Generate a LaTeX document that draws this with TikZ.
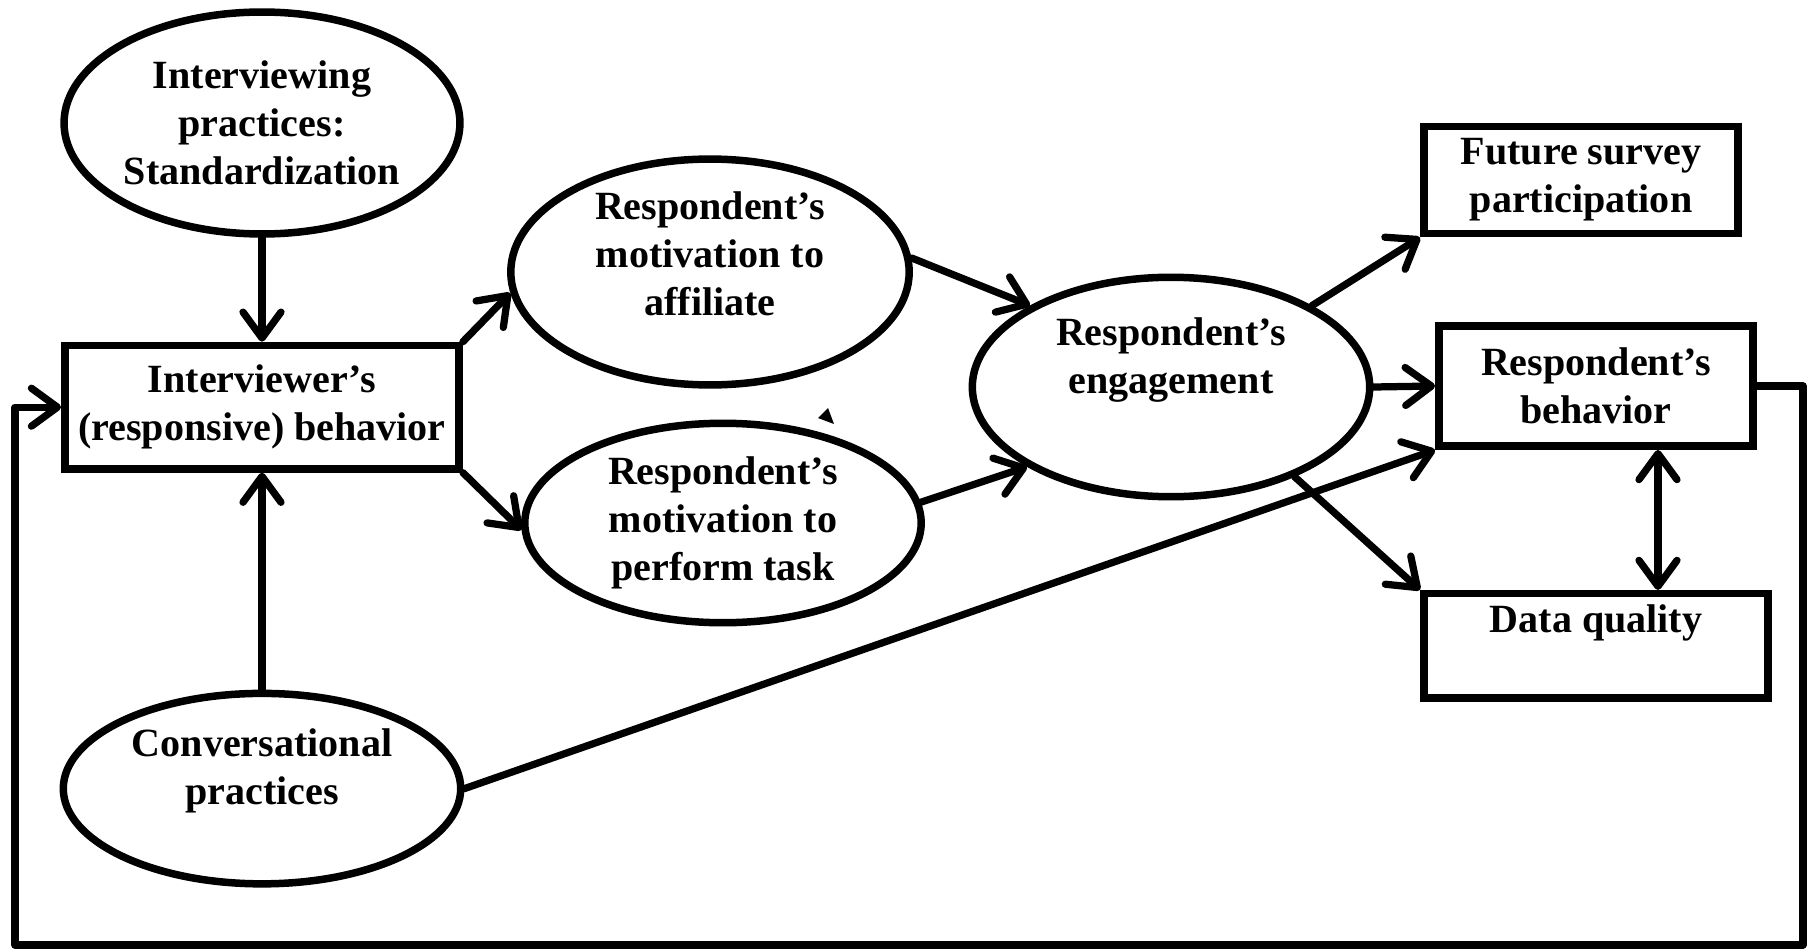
\documentclass[tikz,border=0pt]{standalone}
\usepackage{fontspec}
\setmainfont{Liberation Serif}
\usetikzlibrary{positioning,shapes.geometric,arrows.meta}

\begin{document}
\begin{tikzpicture}[x=0.02cm,y=-0.02cm,
        font=\fontsize{22.8}{27.3}\selectfont\bfseries,
        ell/.style={ellipse,draw,line width=0.15cm,inner sep=0pt,align=center},
        box/.style={rectangle,draw,line width=0.15cm,inner sep=0pt,align=center},
        arr/.style={line width=0.145cm,line cap=round,line join=round,
            -{Straight Barb[length=0.52cm,width=0.76cm,line cap=round,line join=round]}},
        dbl/.style={arr,{Straight Barb[length=0.52cm,width=0.76cm,line cap=round,line join=round]}-{Straight Barb[length=0.52cm,width=0.76cm,line cap=round,line join=round]}}]
        \useasboundingbox (0,0) rectangle (1810,950);

        \node[ell,minimum width=7.92cm,minimum height=4.44cm] (std) at (262,123) {Interviewing\\practices:\\Standardization};
        \node[box,minimum width=7.89cm,minimum height=2.47cm] (ivb) [below=2.08cm of std] {Interviewer's\\(responsive) behavior};
        \node[ell,minimum width=7.95cm,minimum height=3.81cm,text depth=0.9cm] (conv) [below=4.34cm of ivb] {Conversational\\practices};

        \node[ell,minimum width=7.97cm,minimum height=3.83cm,text depth=0.72cm] (aff) at (710,272) {Respondent's\\motivation to\\affiliate};
        \node[ell,minimum width=7.93cm,minimum height=3.99cm] (task) at (723,523) {Respondent's\\motivation to\\perform task};
        \node[ell,minimum width=7.95cm,minimum height=4.39cm,text depth=1.26cm] (eng) at (1171,387) {Respondent's\\engagement};

        \node[box,minimum width=6.29cm,minimum height=2.15cm] (fut) at (1581,180) {Future survey\\participation};
        \node[box,minimum width=6.29cm,minimum height=2.41cm] (rbeh) at (1596,386) {Respondent's\\behavior};
        \node[box,minimum width=6.89cm,minimum height=2.09cm,text depth=1.1cm] (dq) [below=2.8cm of rbeh] {Data quality};

        \coordinate (fbr) at (1803,945);
        \coordinate (fbl) at (15,945);

        \draw[arr] (std) -- (ivb);
        \draw[arr] (conv) -- (ivb);
        \draw[arr] (ivb.north east) -- (aff.186);
        \draw[arr] (ivb.south east) -- (task.182);
        \draw[arr] (aff.4) -- (eng.150);
        \draw[arr] (task.6) -- (eng.209);
        \draw[arr] (eng.30) -- (fut.south west);
        \draw[arr] (eng.east) -- (rbeh.west);
        \draw[arr] (eng.-36) -- (dq.north west);
        \draw[arr] (conv.east) -- (rbeh.south west);
        \draw[dbl] ([xshift=1.24cm]rbeh.south) -- ([xshift=1.24cm]dq.north);
        \draw[arr] (rbeh.east) -| (fbr) -- (fbl) |- (ivb.west);

        \fill (828,408) -- (818,418) -- (834,424) -- cycle;
\end{tikzpicture}
\end{document}
